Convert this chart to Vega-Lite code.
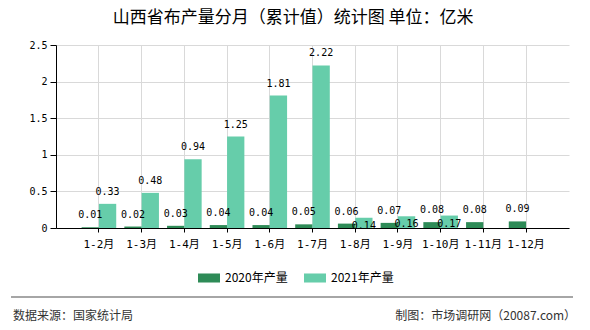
{
  "$schema": "https://vega.github.io/schema/vega-lite/v6.json",
  "background": "white",
  "padding": {"left": 10, "top": 9, "right": 10, "bottom": 5},
  "autosize": {"type": "pad"},
  "title": {
    "text": "山西省布产量分月（累计值）统计图 单位：亿米",
    "font": "Noto Sans CJK SC",
    "fontSize": 17,
    "fontWeight": "normal",
    "color": "#000000",
    "anchor": "middle",
    "offset": 13
  },
  "spacing": 47,
  "config": {
    "view": {"stroke": null},
    "text": {"font": "DejaVu Sans Mono", "fontSize": 10, "color": "#000000"}
  },
  "datasets": {
    "prod": [
      {"month": "1-2月", "year": "2020年产量", "value": 0.01},
      {"month": "1-3月", "year": "2020年产量", "value": 0.02},
      {"month": "1-4月", "year": "2020年产量", "value": 0.03},
      {"month": "1-5月", "year": "2020年产量", "value": 0.04},
      {"month": "1-6月", "year": "2020年产量", "value": 0.04},
      {"month": "1-7月", "year": "2020年产量", "value": 0.05},
      {"month": "1-8月", "year": "2020年产量", "value": 0.06},
      {"month": "1-9月", "year": "2020年产量", "value": 0.07},
      {"month": "1-10月", "year": "2020年产量", "value": 0.08},
      {"month": "1-11月", "year": "2020年产量", "value": 0.08},
      {"month": "1-12月", "year": "2020年产量", "value": 0.09},
      {"month": "1-2月", "year": "2021年产量", "value": 0.33},
      {"month": "1-3月", "year": "2021年产量", "value": 0.48},
      {"month": "1-4月", "year": "2021年产量", "value": 0.94},
      {"month": "1-5月", "year": "2021年产量", "value": 1.25},
      {"month": "1-6月", "year": "2021年产量", "value": 1.81},
      {"month": "1-7月", "year": "2021年产量", "value": 2.22},
      {"month": "1-8月", "year": "2021年产量", "value": 0.14},
      {"month": "1-9月", "year": "2021年产量", "value": 0.16},
      {"month": "1-10月", "year": "2021年产量", "value": 0.17}
    ],
    "footer": [
      {"side": "left", "note": "数据来源：国家统计局", "start": -0.083},
      {"side": "right", "note": "制图：市场调研网（20087.com）", "start": 1.006}
    ]
  },
  "vconcat": [
    {
      "width": 513,
      "height": 183,
      "data": {"name": "prod"},
      "encoding": {
        "x": {
          "field": "month",
          "type": "nominal",
          "sort": ["1-2月", "1-3月", "1-4月", "1-5月", "1-6月", "1-7月", "1-8月", "1-9月", "1-10月", "1-11月", "1-12月"],
          "scale": {"paddingInner": 0.19, "paddingOuter": 0.6},
          "axis": {
            "title": null,
            "labelAngle": 0,
            "labelFont": "DejaVu Sans Mono, Noto Sans CJK SC",
            "labelFontSize": 11,
            "labelColor": "#000000",
            "labelPadding": 6,
            "tickSize": 4,
            "tickColor": "#000000",
            "domainColor": "#000000",
            "domainWidth": 1,
            "grid": true,
            "gridColor": "#d9d9d9",
            "bandPosition": 0.5
          }
        },
        "xOffset": {
          "field": "year",
          "type": "nominal",
          "sort": ["2020年产量", "2021年产量"],
          "scale": {"paddingInner": 0, "paddingOuter": 0}
        },
        "y": {
          "field": "value",
          "type": "quantitative",
          "scale": {"domain": [0, 2.5]},
          "axis": {
            "title": null,
            "values": [0, 0.5, 1, 1.5, 2, 2.5],
            "format": "~g",
            "labelFont": "DejaVu Sans Mono",
            "labelFontSize": 10,
            "labelColor": "#000000",
            "labelPadding": 3,
            "tickSize": 6,
            "tickColor": "#000000",
            "domainColor": "#000000",
            "gridColor": "#d9d9d9"
          }
        }
      },
      "layer": [
        {
          "mark": {"type": "bar"},
          "encoding": {
            "color": {
              "field": "year",
              "type": "nominal",
              "scale": {"domain": ["2020年产量", "2021年产量"], "range": ["#2e8b57", "#66cdaa"]},
              "legend": {
                "title": null,
                "orient": "none",
                "legendX": 142,
                "legendY": 222,
                "direction": "horizontal",
                "symbolType": "M-1,-0.41H1V0.41H-1Z",
                "symbolSize": 484,
                "symbolStrokeWidth": 0,
                "labelFont": "Noto Sans CJK SC",
                "labelFontSize": 12,
                "labelColor": "#000000",
                "labelOffset": 5,
                "columnPadding": 16
              }
            }
          }
        },
        {
          "transform": [{"filter": "datum.year == '2020年产量' || indexof(['1-8月', '1-9月', '1-10月'], datum.month) < 0"}],
          "mark": {"type": "text", "dy": -12},
          "encoding": {"text": {"field": "value", "type": "quantitative", "format": ".2f"}}
        },
        {
          "transform": [{"filter": "datum.year == '2021年产量' && indexof(['1-8月', '1-9月', '1-10月'], datum.month) >= 0"}],
          "mark": {"type": "text", "dy": 8},
          "encoding": {"text": {"field": "value", "type": "quantitative", "format": ".2f"}}
        }
      ]
    },
    {
      "width": 517,
      "height": 24,
      "data": {"name": "footer"},
      "layer": [
        {
          "transform": [{"filter": "datum.side == 'left'"}],
          "mark": {"type": "rule", "color": "#888888", "strokeWidth": 1.5},
          "encoding": {
            "x": {"datum": -0.087, "type": "quantitative", "scale": {"domain": [0, 1], "nice": false, "zero": false}, "axis": null},
            "x2": {"datum": 1},
            "y": {"datum": 24, "type": "quantitative", "scale": {"domain": [0, 24], "nice": false}, "axis": null}
          }
        },
        {
          "transform": [{"filter": "datum.side == 'left'"}],
          "mark": {"type": "text", "align": "left", "font": "Noto Sans CJK SC", "fontSize": 12, "color": "#333333"},
          "encoding": {
            "x": {"field": "start", "type": "quantitative", "scale": {"domain": [0, 1], "nice": false, "zero": false}, "axis": null},
            "y": {"datum": 5, "type": "quantitative", "scale": {"domain": [0, 24], "nice": false}, "axis": null},
            "text": {"field": "note"}
          }
        },
        {
          "transform": [{"filter": "datum.side == 'right'"}],
          "mark": {"type": "text", "align": "right", "font": "Noto Sans CJK SC", "fontSize": 12, "color": "#333333"},
          "encoding": {
            "x": {"field": "start", "type": "quantitative", "scale": {"domain": [0, 1], "nice": false, "zero": false}, "axis": null},
            "y": {"datum": 5, "type": "quantitative", "scale": {"domain": [0, 24], "nice": false}, "axis": null},
            "text": {"field": "note"}
          }
        }
      ]
    }
  ]
}
